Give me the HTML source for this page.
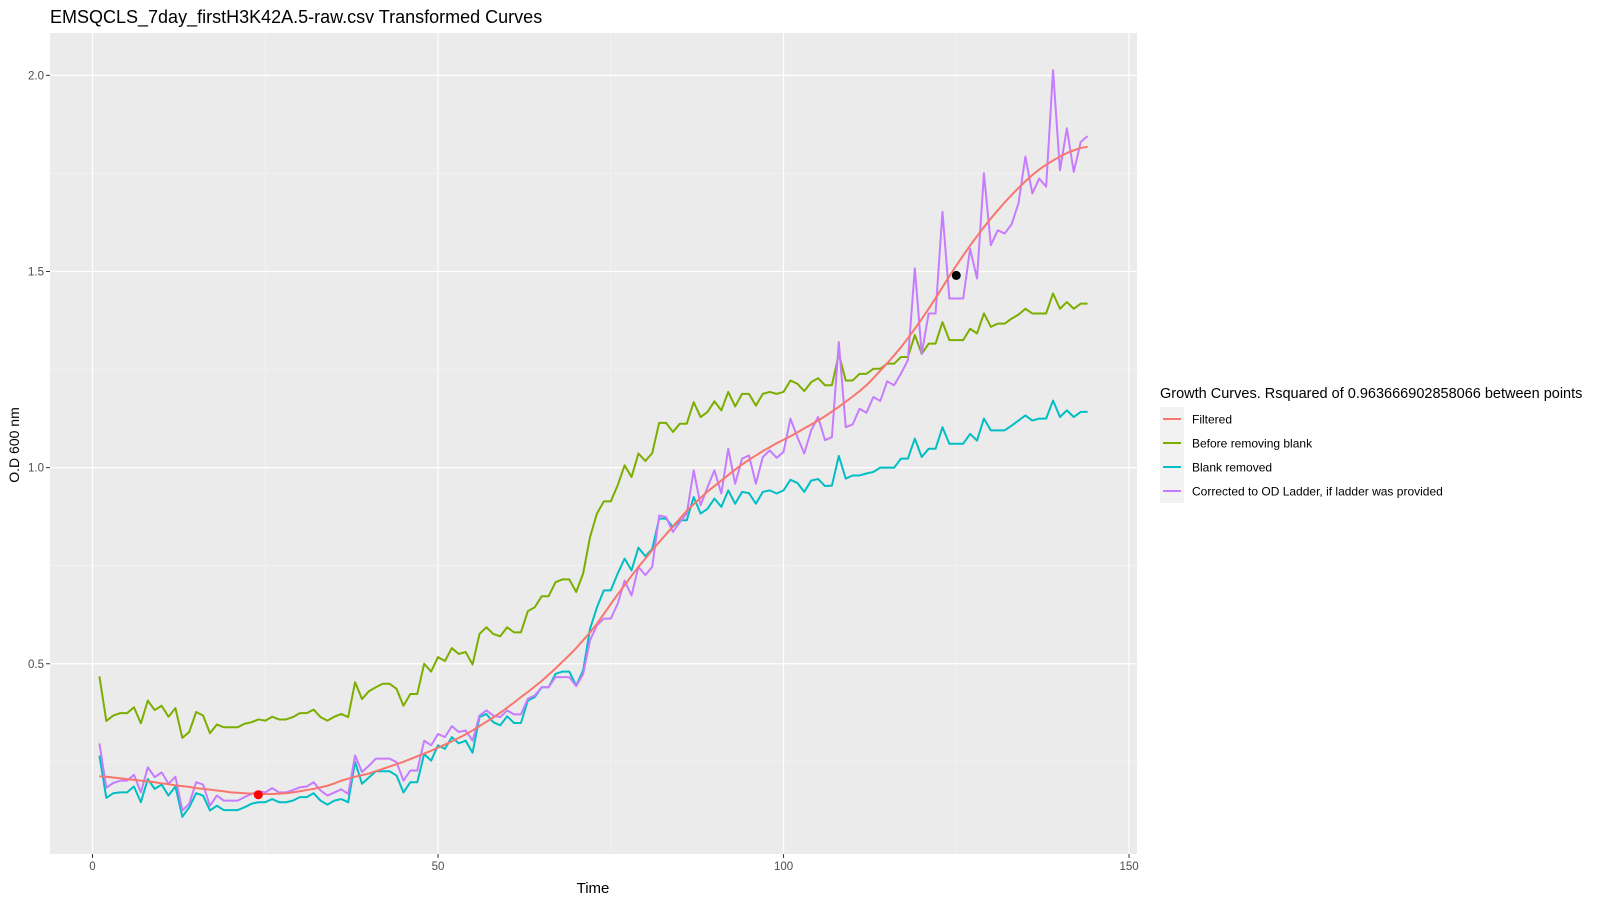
<!DOCTYPE html>
<html><head><meta charset="utf-8"><title>Transformed Curves</title>
<style>
html,body{margin:0;padding:0;background:#fff;}
svg{display:block;font-family:"Liberation Sans",Arial,sans-serif;}
</style></head>
<body>
<svg id="chart" width="1600" height="900" viewBox="0 0 1600 900" xmlns="http://www.w3.org/2000/svg">
  <text x="50" y="23" font-size="18" fill="#000">EMSQCLS_7day_firstH3K42A.5-raw.csv Transformed Curves</text>
  <rect x="50" y="33" width="1087" height="821" fill="#EBEBEB"/>
  <g id="grid"></g>
  <g id="series"></g>
  <g id="axes"></g>
  <text x="593" y="893" font-size="15" text-anchor="middle" fill="#000">Time</text>
  <text transform="translate(19,445) rotate(-90)" font-size="14" text-anchor="middle" fill="#000">O.D 600 nm</text>
  <g>
    <text x="1160" y="398" font-size="14.5" fill="#000">Growth Curves. Rsquared of 0.963666902858066 between points</text>
    <rect x="1160" y="407" width="24" height="96" fill="#F2F2F2"/>
    <g id="legend-entries"></g>
  </g>
</svg>
<script>
const xs = [];
for (let i = 1; i <= 144; i++) xs.push(i);
const xTicks = [0, 50, 100, 150];
const xMinor = [25, 75, 125];
const yTicks = [0.5, 1.0, 1.5, 2.0];
const yTickLabels = ["0.5", "1.0", "1.5", "2.0"];
const yMinor = [0.25, 0.75, 1.25, 1.75];
const seriesNames = ["Filtered", "Before removing blank", "Blank removed", "Corrected to OD Ladder, if ladder was provided"];
const seriesColors = ["#F8766D", "#7CAE00", "#00BFC4", "#C77CFF"];

const filtered = [.213,.212,.210,.208,.206,.204,.202,.200,.198,.195,
.193,.190,.188,.186,.183,.181,.179,.177,.175,.172,
.171,.170,.169,.168,.168,.168,.169,.170,.172,.175,
.178,.181,.185,.189,.195,.202,.207,.212,.216,.220,
.226,.232,.238,.244,.250,.257,.264,.271,.278,.286,
.294,.302,.311,.320,.330,.341,.352,.363,.375,.388,
.401,.415,.428,.442,.456,.472,.488,.505,.522,.540,
.560,.580,.602,.627,.652,.677,.700,.724,.747,.768,
.790,.810,.830,.850,.870,.890,.907,.923,.939,.953,
.967,.981,.995,1.008,1.020,1.031,1.042,1.052,1.062,1.071,
1.080,1.090,1.100,1.110,1.120,1.131,1.143,1.155,1.168,1.181,
1.195,1.210,1.228,1.247,1.266,1.286,1.307,1.330,1.354,1.379,
1.405,1.432,1.460,1.488,1.515,1.541,1.566,1.590,1.613,1.635,
1.656,1.676,1.695,1.713,1.730,1.746,1.760,1.772,1.783,1.793,
1.802,1.809,1.815,1.818];

const beforeBlank = [.468,.354,.368,.374,.374,.389,.348,.406,.382,.393,.365,.387,
.311,.326,.377,.368,.323,.345,.338,.338,.338,.347,.351,.358,
.355,.365,.358,.358,.364,.374,.374,.383,.364,.355,.365,.372,.364,
.453,.41,.43,.44,.449,.449,.436,.393,.423,.423,.5,.48,
.517,.507,.54,.525,.53,.498,.576,.593,.576,.57,.593,
.58,.58,.634,.644,.672,.672,.708,.715,.715,.683,.73,
.823,.883,.914,.914,.955,1.006,.976,1.036,1.017,1.037,
1.114,1.114,1.091,1.112,1.112,1.167,1.129,1.142,1.169,1.146,
1.193,1.156,1.188,1.188,1.158,1.188,1.193,1.188,1.193,1.222,
1.214,1.195,1.218,1.228,1.21,1.21,1.29,
1.222,1.222,1.239,1.239,1.252,1.252,1.265,1.265,1.282,1.282,
1.338,1.29,1.316,1.316,1.371,1.325,1.325,1.325,1.354,1.342,
1.393,1.359,1.367,1.367,1.38,1.39,1.405,1.393,1.393,1.393,
1.444,1.405,1.422,1.405,1.418,1.418];

const blankRemoved = [.266,.158,.17,.172,.172,.187,.147,.206,.181,.192,.164,.187,
.11,.134,.17,.164,.126,.138,.127,.127,.127,.134,.143,.147,
.147,.155,.147,.147,.151,.16,.16,.17,.151,.141,.151,.155,.147,
.25,.194,.21,.226,.226,.226,.215,.172,.198,.198,.27,.253,
.292,.283,.313,.297,.304,.273,.364,.372,.351,.343,.366,
.349,.349,.406,.415,.44,.44,.474,.48,.48,.444,.483,
.589,.644,.687,.687,.73,.768,.738,.796,.774,.793,
.87,.87,.849,.866,.866,.925,.883,.895,.921,.9,
.942,.908,.938,.935,.908,.938,.942,.934,.942,.969,
.961,.938,.967,.971,.953,.954,1.03,
.972,.98,.98,.985,.989,1.0,1.0,1.0,1.023,1.023,
1.074,1.027,1.048,1.048,1.103,1.061,1.061,1.061,1.086,1.069,
1.125,1.095,1.095,1.095,1.107,1.12,1.133,1.12,1.125,1.125,
1.171,1.129,1.146,1.129,1.142,1.142];

const corrected = [.297,.184,.196,.202,.202,.217,.172,.236,.211,.223,.194,.212,
.126,.143,.198,.192,.138,.164,.151,.151,.151,.16,.168,.175,
.172,.183,.172,.172,.178,.185,.187,.198,.177,.164,.172,.18,.168,
.266,.224,.24,.258,.258,.258,.249,.202,.228,.228,.304,.292,
.321,.313,.341,.326,.33,.304,.368,.381,.368,.364,.381,
.371,.371,.411,.419,.44,.44,.466,.466,.466,.443,.474,
.56,.598,.615,.615,.653,.712,.674,.747,.726,.747,
.878,.874,.836,.861,.883,.993,.904,.95,.993,.934,
1.048,.959,1.023,1.031,.959,1.027,1.044,1.025,1.04,1.125,
1.078,1.036,1.095,1.129,1.07,1.078,1.32,
1.103,1.11,1.15,1.14,1.18,1.17,1.22,1.21,1.24,1.274,
1.508,1.29,1.393,1.393,1.652,1.431,1.431,1.431,1.558,1.482,
1.75,1.567,1.605,1.597,1.62,1.674,1.793,1.699,1.737,1.716,
2.013,1.758,1.865,1.754,1.83,1.845];

const markerX = [24, 125];
const markerY = [0.166, 1.49];
const markerColors = ["#FF0000", "#000000"];

const NS = "http://www.w3.org/2000/svg";
const P = {l: 50, r: 1137, t: 33, b: 854};
const xDom = [-6.15, 151.15], yDom = [0.015, 2.108];
function sx(v){ return P.l + (v - xDom[0]) / (xDom[1] - xDom[0]) * (P.r - P.l); }
function sy(v){ return P.b - (v - yDom[0]) / (yDom[1] - yDom[0]) * (P.b - P.t); }
function mk(tag, attrs, parent){
  const e = document.createElementNS(NS, tag);
  for (const k in attrs) e.setAttribute(k, attrs[k]);
  parent.appendChild(e);
  return e;
}
const grid = document.getElementById('grid');
const axes = document.getElementById('axes');
xMinor.forEach(v => {
  const l = mk('line', {x1: sx(v), x2: sx(v), y1: P.t, y2: P.b, stroke: '#F5F5F5', 'stroke-width': 0.6}, grid);
  
  
});
yMinor.forEach(v => {
  const l = mk('line', {x1: P.l, x2: P.r, y1: sy(v), y2: sy(v), stroke: '#F5F5F5', 'stroke-width': 0.6}, grid);
  
  
});
xTicks.forEach(v => {
  const l = mk('line', {x1: sx(v), x2: sx(v), y1: P.t, y2: P.b, stroke: '#FFFFFF', 'stroke-width': 1.2}, grid);
  
  
  const t = mk('line', {x1: sx(v), x2: sx(v), y1: P.b, y2: P.b + 4, stroke: '#333', 'stroke-width': 1}, axes);
  
  
  const tx = mk('text', {x: sx(v), y: P.b + 16, 'font-size': 11.5, 'text-anchor': 'middle', fill: '#4D4D4D'}, axes);
  tx.textContent = String(v);
  
  
});
yTicks.forEach((v, i) => {
  const l = mk('line', {x1: P.l, x2: P.r, y1: sy(v), y2: sy(v), stroke: '#FFFFFF', 'stroke-width': 1.2}, grid);
  
  
  const t = mk('line', {x1: P.l - 4, x2: P.l, y1: sy(v), y2: sy(v), stroke: '#333', 'stroke-width': 1}, axes);
  
  
  const tx = mk('text', {x: P.l - 6, y: sy(v) + 4, 'font-size': 11.5, 'text-anchor': 'end', fill: '#4D4D4D'}, axes);
  tx.textContent = yTickLabels[i];
  
  
});
const seriesG = document.getElementById('series');
const allSeries = [filtered, beforeBlank, blankRemoved, corrected];
const seriesIds = ['filtered-line', 'before-blank-line', 'blank-removed-line', 'corrected-line'];
const drawOrder = [1, 2, 3, 0];
drawOrder.forEach(i => {
  const d = allSeries[i].map((v, j) => (j ? 'L' : 'M') + sx(xs[j]).toFixed(2) + ' ' + sy(v).toFixed(2)).join(' ');
  const p = mk('path', {d: d, fill: 'none', stroke: seriesColors[i], 'stroke-width': 2, 'stroke-linejoin': 'round'}, seriesG);
  
  
});
markerX.forEach((v, i) => {
  const c = mk('circle', {cx: sx(v), cy: sy(markerY[i]), r: 4.5, fill: markerColors[i]}, seriesG);
  
  
});
const leg = document.getElementById('legend-entries');
seriesNames.forEach((n, i) => {
  const cy = 419 + i * 24;
  const l = mk('line', {x1: 1163, x2: 1181, y1: cy, y2: cy, stroke: seriesColors[i], 'stroke-width': 2}, leg);
  
  
  const t = mk('text', {x: 1192, y: cy + 4.5, 'font-size': 12, fill: '#000'}, leg);
  t.textContent = n;
  
  
});
</script>
</body></html>
